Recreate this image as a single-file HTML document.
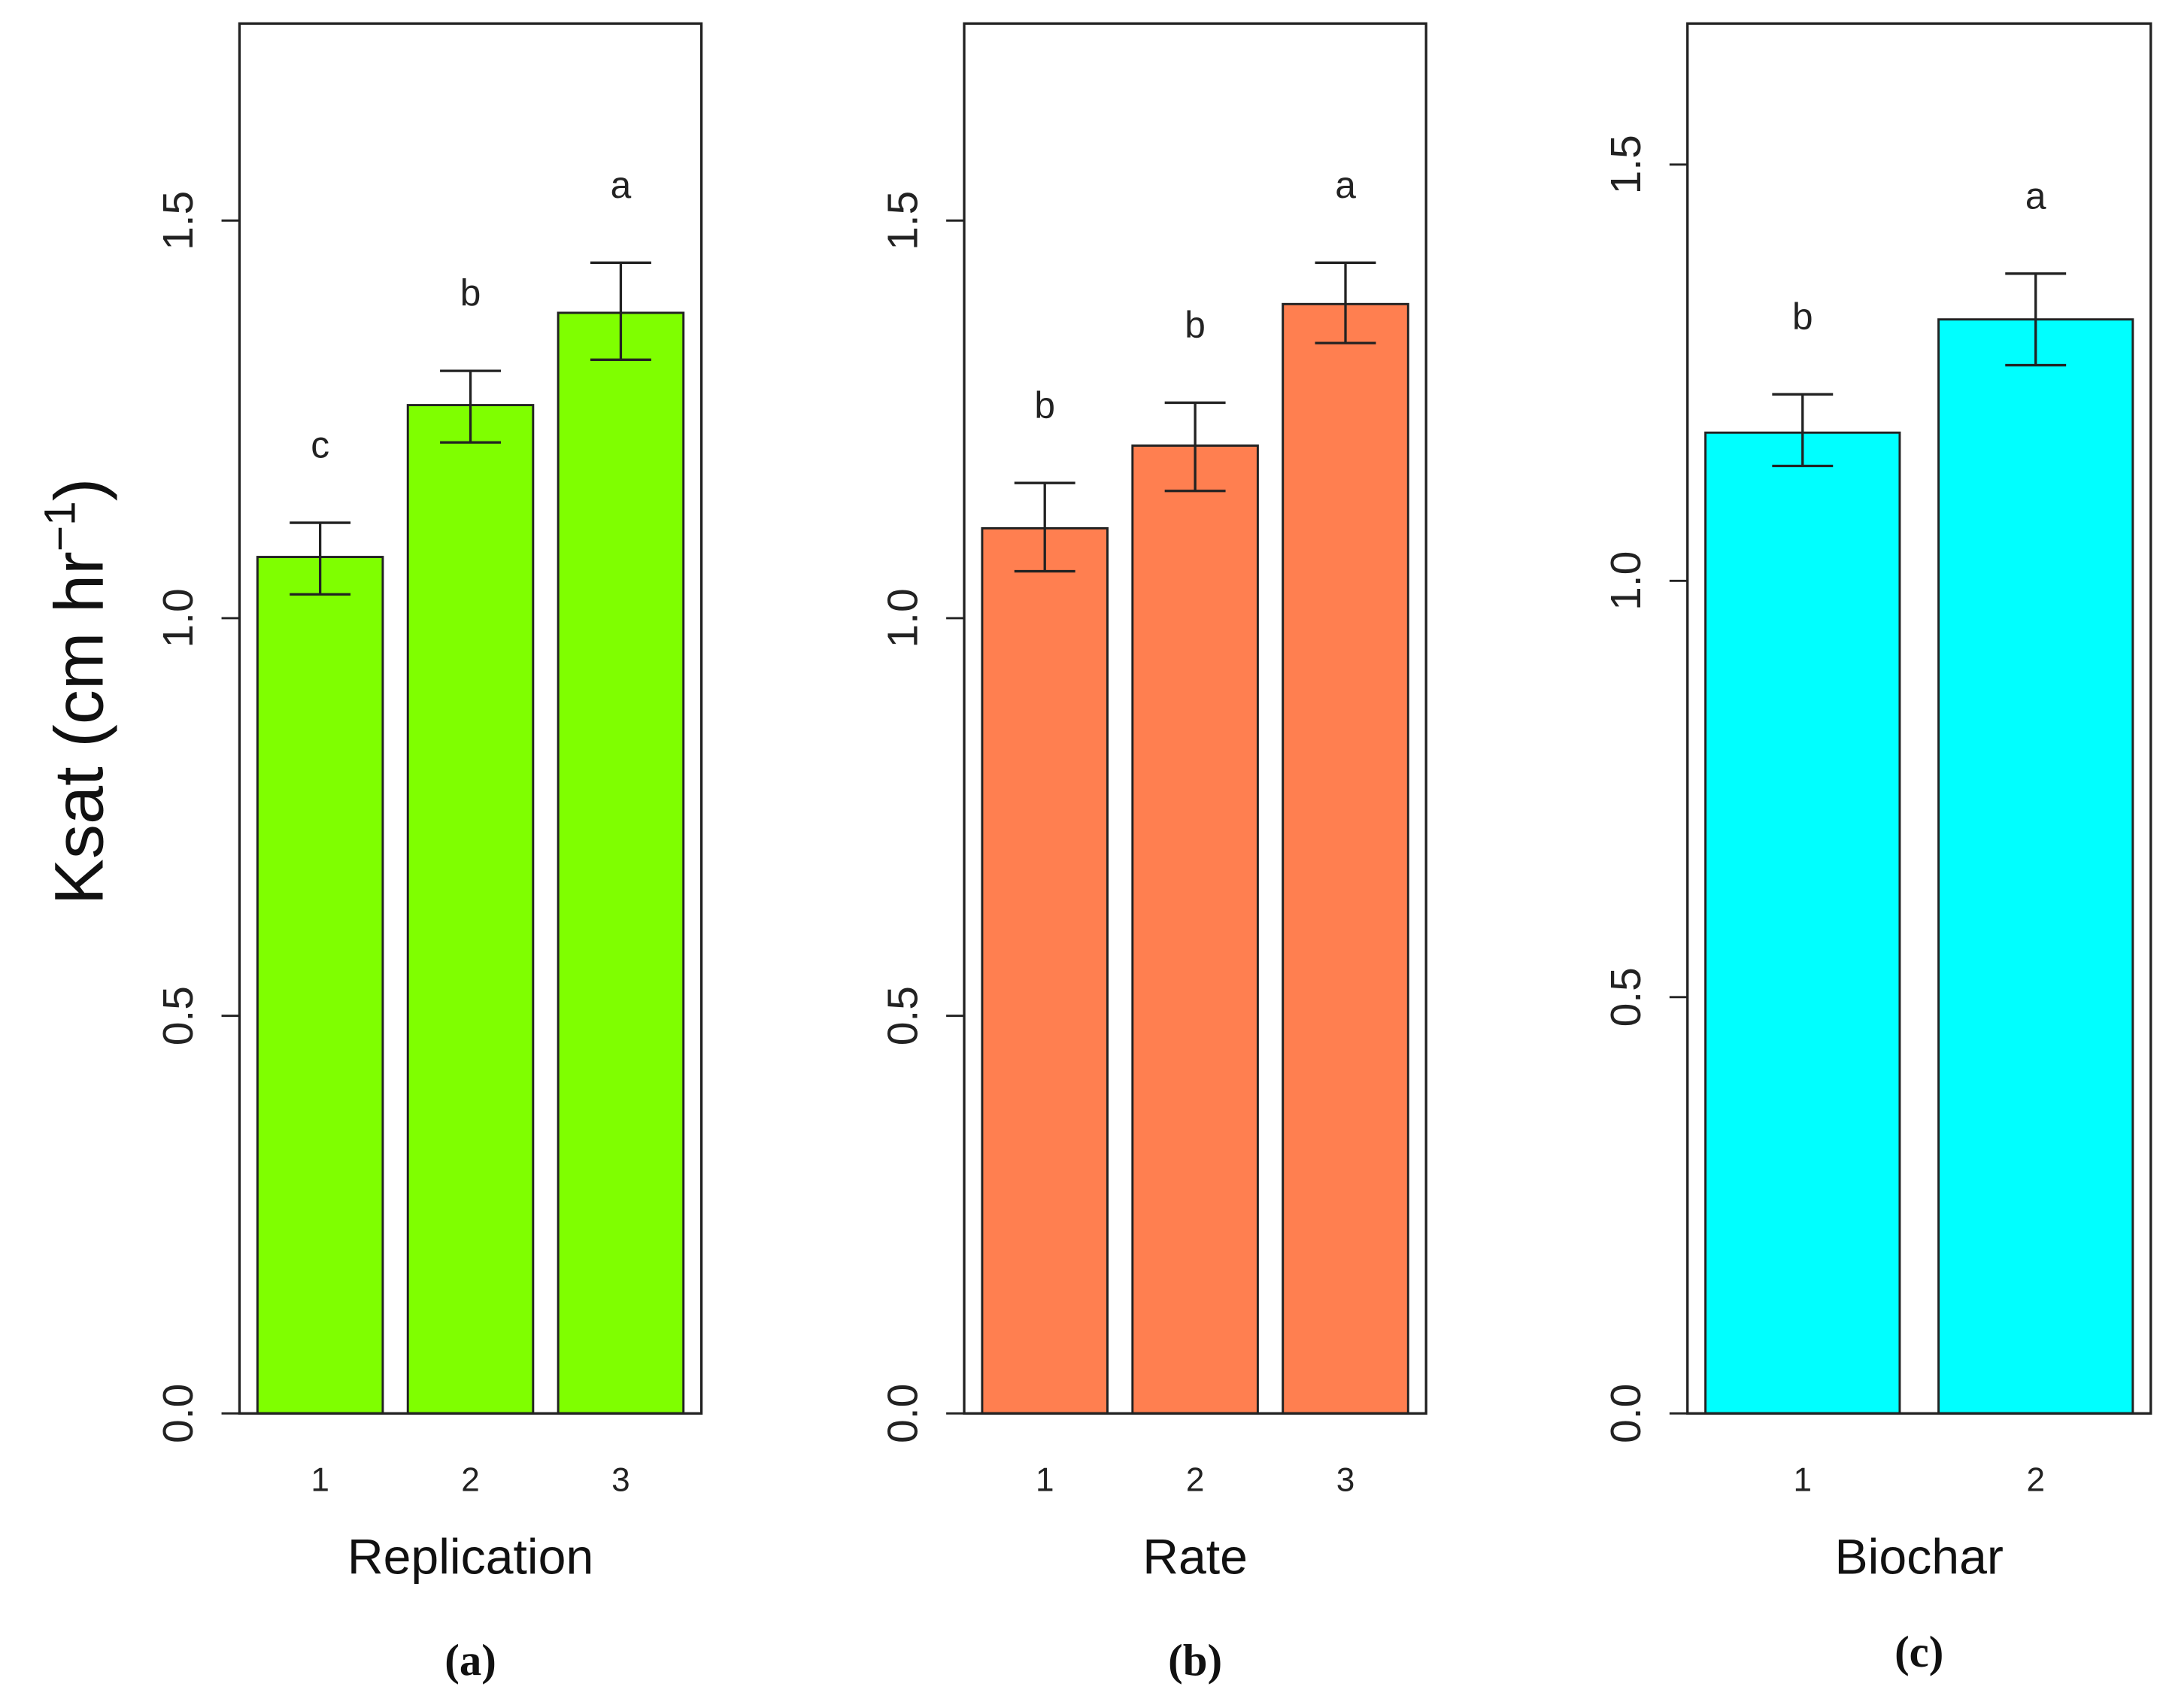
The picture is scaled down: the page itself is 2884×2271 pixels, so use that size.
<!DOCTYPE html>
<html><head><meta charset="utf-8">
<style>html,body{margin:0;padding:0;background:#fff}svg{display:block}</style>
</head><body>
<svg id="fig" width="2884" height="2271" viewBox="0 0 1568 1235" xmlns="http://www.w3.org/2000/svg" font-family="Liberation Sans, Arial, sans-serif"></svg>
<script>
const catsA = ["1","2","3"];
const valsA = [1.077, 1.268, 1.384];
const errHiA = [1.12, 1.311, 1.447];
const errLoA = [1.03, 1.221, 1.325];
const letA = ["c","b","a"];
const catsB = ["1","2","3"];
const valsB = [1.113, 1.217, 1.395];
const errHiB = [1.17, 1.271, 1.447];
const errLoB = [1.059, 1.160, 1.346];
const letB = ["b","b","a"];
const catsC = ["1","2"];
const valsC = [1.178, 1.314];
const errHiC = [1.224, 1.369];
const errLoC = [1.138, 1.259];
const letC = ["b","a"];
const yTicks = [0.0, 0.5, 1.0, 1.5];
const yTickLabels = ["0.0","0.5","1.0","1.5"];

const svg = document.getElementById('fig');
const NS = "http://www.w3.org/2000/svg";
function mk(tag, attrs, parent){const e=document.createElementNS(NS,tag);for(const k in attrs)e.setAttribute(k,attrs[k]);(parent||svg).appendChild(e);return e;}

function panel(id, x0, x1, ymax, cats, vals, hi, lo, lets, color, xlab, tag, tagY){
  const y0 = 1022, top = 17;
  const ys = v => y0 - v/ymax*(y0-top);
  const g = mk('g',{});
  
  
  const n = cats.length;
  const padL = 13, padR = 13;
  const scale = (x1-x0-padL-padR)/(n*1.2-0.2);
  const xs = u => x0 + padL + (u-0.2)*scale;
  for(let i=0;i<n;i++){
    const l = xs(0.2+i*1.2), r = xs(1.2+i*1.2), c=(l+r)/2;
    const b = mk('rect',{x:l,y:ys(vals[i]),width:r-l,height:y0-ys(vals[i]),fill:color,stroke:'#222','stroke-width':1.6},g);
    
    
    const eb = mk('path',{d:`M${c},${ys(hi[i])}V${ys(lo[i])}M${c-22},${ys(hi[i])}H${c+22}M${c-22},${ys(lo[i])}H${c+22}`,stroke:'#222','stroke-width':1.8,fill:'none'},g);
    
    
    const lt = mk('text',{x:c,y:ys(hi[i])-47,'text-anchor':'middle','font-size':27,fill:'#222'},g);
    lt.textContent = lets[i];
    
    
    const tl = mk('text',{x:c,y:1078,'text-anchor':'middle','font-size':24,fill:'#222'},g);
    tl.textContent = cats[i];
    
    
  }
  const box = mk('rect',{x:x0,y:top,width:x1-x0,height:y0-top,fill:'none',stroke:'#222','stroke-width':1.8},g);
  
  
  yTicks.forEach((t,i)=>{
    const y = ys(t);
    mk('line',{x1:x0-13,x2:x0,y1:y,y2:y,stroke:'#222','stroke-width':1.6},g);
    const tx = mk('text',{x:0,y:0,'text-anchor':'middle','font-size':31,fill:'#222',transform:`translate(${x0-34},${y}) rotate(-90)`},g);
    tx.textContent = yTickLabels[i];
    
    
  });
  const xl = mk('text',{x:(x0+x1)/2,y:1138,'text-anchor':'middle','font-size':36,fill:'#111'},g);
  xl.textContent = xlab;
  
  
  const tg = mk('text',{x:(x0+x1)/2,y:tagY,'text-anchor':'middle','font-size':32,'font-weight':'bold','font-family':'Liberation Serif, serif',fill:'#111'},g);
  tg.textContent = tag;
  
  
}
panel('a',173,507,1.7478,catsA,valsA,errHiA,errLoA,letA,'#7fff00','Replication','(a)',1211);
panel('b',697,1031,1.7478,catsB,valsB,errHiB,errLoB,letB,'#ff7f50','Rate','(b)',1211);
panel('c',1220,1555,1.6694,catsC,valsC,errHiC,errLoC,letC,'#00ffff','Biochar','(c)',1205);

const yl = mk('text',{x:0,y:0,'text-anchor':'middle','font-size':50,fill:'#111',transform:'translate(74,500) rotate(-90)'});


yl.innerHTML = 'Ksat (cm hr<tspan font-size="32" dy="-20">−1</tspan><tspan dy="20">)</tspan>';
</script>
</body></html>
